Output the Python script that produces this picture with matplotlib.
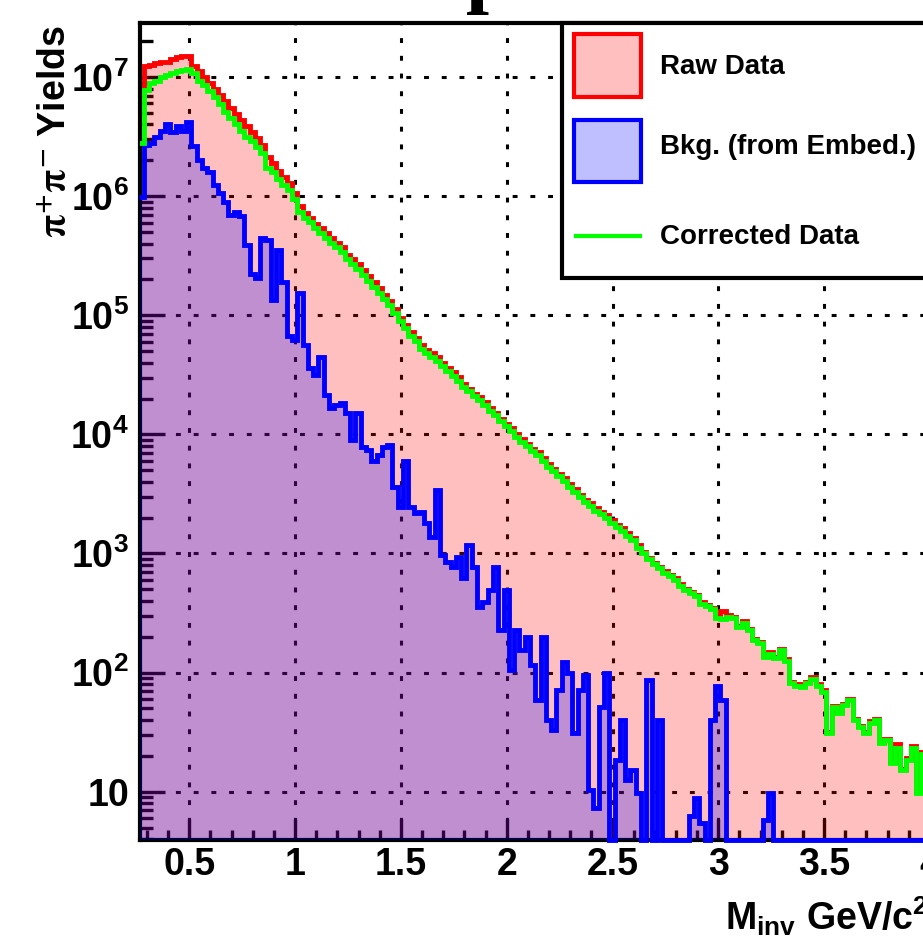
import numpy as np
import matplotlib
matplotlib.use("Agg")
import matplotlib.pyplot as plt
from matplotlib.patches import Rectangle
from matplotlib.lines import Line2D
from matplotlib.ticker import MultipleLocator, LogLocator, FuncFormatter, NullFormatter

plt.rcParams["font.family"] = ["Liberation Sans", "DejaVu Sans"]
plt.rcParams["font.weight"] = "bold"
plt.rcParams["mathtext.fontset"] = "custom"
plt.rcParams["mathtext.rm"] = "Liberation Sans:bold"
plt.rcParams["mathtext.bf"] = "Liberation Sans:bold"
plt.rcParams["mathtext.it"] = "Liberation Sans:bold:italic"

nan = float("nan")

# histogram binning, GeV/c^2
bin_lo = 0.26
bin_width = 0.025
n_bins = 150

# log10 of bin contents
raw_log = [
    6.89, 7.09, 7.10, 7.12, 7.13, 7.13, 7.15, 7.17, 7.18, 7.18,
    7.09, 7.05, 7.00, 6.95, 6.90, 6.85, 6.80, 6.74, 6.69, 6.64,
    6.59, 6.54, 6.49, 6.43, 6.33, 6.28, 6.21, 6.16, 6.11, 6.03,
    5.92, 5.86, 5.82, 5.77, 5.73, 5.69, 5.65, 5.61, 5.57, 5.51,
    5.47, 5.43, 5.38, 5.33, 5.28, 5.23, 5.17, 5.12, 5.05, 4.98,
    4.92, 4.86, 4.81, 4.75, 4.71, 4.68, 4.65, 4.60, 4.56, 4.52,
    4.48, 4.42, 4.38, 4.34, 4.31, 4.27, 4.22, 4.18, 4.13, 4.09,
    4.05, 4.00, 3.96, 3.92, 3.88, 3.85, 3.80, 3.75, 3.71, 3.67,
    3.63, 3.58, 3.54, 3.49, 3.45, 3.42, 3.38, 3.35, 3.32, 3.28,
    3.24, 3.21, 3.17, 3.13, 3.07, 3.01, 2.96, 2.92, 2.89, 2.85,
    2.82, 2.79, 2.74, 2.70, 2.68, 2.65, 2.59, 2.57, 2.54, 2.47,
    2.52, 2.48, 2.47, 2.39, 2.43, 2.37, 2.28, 2.26, 2.14, 2.17,
    2.13, 2.20, 2.11, 1.92, 1.90, 1.89, 1.92, 1.96, 1.90, 1.85,
    1.50, 1.72, 1.67, 1.74, 1.78, 1.61, 1.55, 1.50, 1.59, 1.61,
    1.42, 1.44, 1.25, 1.40, 1.19, 1.28, 1.38, 1.00, 1.33, 1.28,
]

corr_log = [
    6.45, 6.89, 6.95, 6.97, 7.00, 7.02, 7.03, 7.05, 7.06, 7.07,
    7.03, 6.97, 6.93, 6.88, 6.83, 6.77, 6.71, 6.66, 6.61, 6.55,
    6.50, 6.46, 6.41, 6.36, 6.24, 6.20, 6.14, 6.09, 6.05, 5.98,
    5.87, 5.82, 5.78, 5.73, 5.69, 5.65, 5.61, 5.57, 5.53, 5.47,
    5.43, 5.39, 5.34, 5.29, 5.24, 5.19, 5.14, 5.09, 5.02, 4.95,
    4.89, 4.83, 4.78, 4.72, 4.68, 4.65, 4.62, 4.57, 4.53, 4.49,
    4.45, 4.40, 4.36, 4.32, 4.29, 4.25, 4.20, 4.16, 4.11, 4.07,
    4.03, 3.98, 3.94, 3.90, 3.86, 3.83, 3.78, 3.73, 3.69, 3.65,
    3.61, 3.56, 3.52, 3.47, 3.43, 3.40, 3.36, 3.33, 3.30, 3.26,
    3.22, 3.19, 3.15, 3.11, 3.05, 3.00, 2.95, 2.91, 2.88, 2.84,
    2.81, 2.78, 2.73, 2.69, 2.67, 2.64, 2.58, 2.56, 2.53, 2.46,
    2.45, 2.47, 2.46, 2.38, 2.42, 2.36, 2.27, 2.25, 2.13, 2.16,
    2.12, 2.19, 2.10, 1.91, 1.89, 1.88, 1.91, 1.95, 1.89, 1.84,
    1.49, 1.71, 1.66, 1.73, 1.77, 1.60, 1.54, 1.49, 1.58, 1.60,
    1.41, 1.43, 1.24, 1.37, 1.18, 1.27, 1.37, 0.99, 1.32, 1.27,
]

bkg_log = [
    5.99, 6.43, 6.45, 6.50, 6.55, 6.61, 6.54, 6.59, 6.55, 6.62,
    6.42, 6.30, 6.24, 6.20, 6.09, 6.03, 5.95, 5.84, 5.87, 5.83,
    5.59, 5.35, 5.31, 5.65, 5.63, 5.13, 5.55, 5.28, 4.83, 4.79,
    5.19, 4.75, 4.56, 4.50, 4.65, 4.33, 4.22, 4.25, 4.26, 4.18,
    3.95, 4.18, 3.89, 3.87, 3.78, 3.83, 3.89, 3.91, 3.56, 3.39,
    3.78, 3.39, 3.34, 3.35, 3.26, 3.14, 3.53, 2.99, 2.93, 2.89,
    2.97, 2.79, 3.07, 2.89, 2.55, 2.59, 2.69, 2.89, 2.36, 2.69,
    2.02, 2.36, 2.19, 2.30, 2.06, 1.77, 2.30, 1.60, 1.52, 1.85,
    2.09, 2.00, 1.49, 1.85, 1.98, 1.01, 0.86, 1.71, 2.00, nan,
    1.27, 1.60, 1.10, 1.18, 0.99, nan, 1.94, nan, 1.60, nan,
    nan, nan, nan, nan, 0.80, 0.95, 0.74, nan, 1.60, 1.89,
    1.77, nan, nan, nan, nan, nan, nan, nan, 0.76, 0.99,
    nan, nan, nan, nan, nan, nan, nan, nan, nan, nan,
    nan, nan, nan, nan, nan, nan, nan, nan, nan, nan,
    nan, nan, nan, nan, nan, nan, nan, nan, nan, nan,
]

edges = bin_lo + bin_width * np.arange(n_bins + 1)
raw = 10 ** np.array(raw_log)
corr = 10 ** np.array(corr_log)
bkg = np.nan_to_num(10 ** np.array(bkg_log))

y_lo, y_hi = 3.93, 2.86e7
x_lo, x_hi = 0.267, 4.6

W, H = 923, 936
fig = plt.figure(figsize=(W / 100, H / 100), dpi=100)
# axes run past the right edge of the picture (cropped plot)
ax = fig.add_axes([140 / W, 1 - 840 / H, (x_hi - x_lo) * 211.6 / W, (840 - 22.7) / H])
ax.set_yscale("log")
ax.set_xlim(x_lo, x_hi)
ax.set_ylim(y_lo, y_hi)

lw_hist = 3.5

# raw data: light red fill + red outline
ax.stairs(raw, edges, baseline=y_lo, fill=True, color=(1, 0, 0, 0.25), lw=0, zorder=1)
ax.stairs(raw, edges, baseline=None, color="red", lw=lw_hist, zorder=2)

# background: light blue fill + blue outline (empty bins sit on the axis)
bkg_draw = np.maximum(bkg, y_lo)
ax.stairs(bkg_draw, edges, baseline=y_lo, fill=True, color=(0, 0, 1, 0.25), lw=0, zorder=3)
ax.stairs(bkg_draw, edges, baseline=None, color="blue", lw=lw_hist, zorder=4, clip_on=False)

# corrected data
ax.stairs(corr, edges, baseline=None, color=(0, 1, 0), lw=lw_hist, zorder=5)

ax.set_axisbelow(True)
ax.grid(True, which="major", color="black", lw=2.2, linestyle=(0, (1.6, 4.2)))

for s in ax.spines.values():
    s.set_linewidth(3)

ax.xaxis.set_major_locator(MultipleLocator(0.5))
ax.xaxis.set_minor_locator(MultipleLocator(0.1))
ax.xaxis.set_major_formatter(FuncFormatter(lambda v, p: f"{v:g}"))
ax.yaxis.set_major_locator(LogLocator(base=10))
ax.yaxis.set_minor_locator(LogLocator(base=10, subs=np.arange(2, 10)))
ax.yaxis.set_minor_formatter(NullFormatter())


def ylab(v, p):
    e = int(round(np.log10(v)))
    if e == 1:
        return "10"
    return r"$10^{%d}$" % e


ax.yaxis.set_major_formatter(FuncFormatter(ylab))

ax.tick_params(axis="x", which="major", direction="in", length=15, width=2.4, labelsize=27, pad=5)
ax.tick_params(axis="x", which="minor", direction="in", length=7.2, width=2.4)
ax.tick_params(axis="y", which="major", direction="in", length=18, width=2.4, labelsize=27, pad=8)
ax.tick_params(axis="y", which="minor", direction="in", length=9.4, width=2.4)


def fx(px):
    return px / W


def fy(py):
    return 1 - py / H


# axis titles
fig.text(fx(56), fy(25), r"$\mathrm{\pi^{+}\pi^{-}}$ Yields", rotation=90, ha="center", va="top",
         size=27, weight="bold", math_fontfamily="stix")
fig.text(fx(725), fy(930), r"$\mathrm{M_{inv}}$ GeV/c$^{2}$", ha="left", va="baseline", size=27)

# bottom of the (cropped) title
fig.text(fx(466), fy(-3), "p", family="Liberation Serif", weight="bold", size=60, va="baseline")

# legend box
fig.add_artist(Rectangle((fx(562), fy(278)), fx(1000) - fx(562), (278 - 22.7) / H,
                         transform=fig.transFigure, facecolor="white", edgecolor="black", lw=3, zorder=10))
fig.add_artist(Rectangle((fx(574), fy(97)), fx(641) - fx(574), (97 - 34) / H, transform=fig.transFigure,
                         facecolor=(1, 0.75, 0.75), edgecolor="red", lw=3, zorder=11))
fig.add_artist(Rectangle((fx(574), fy(182)), fx(641) - fx(574), (182 - 120) / H, transform=fig.transFigure,
                         facecolor=(0.75, 0.75, 1), edgecolor="blue", lw=3, zorder=11))
fig.add_artist(Line2D([fx(576), fx(640)], [fy(236), fy(236)], transform=fig.transFigure,
                      color=(0, 1, 0), lw=3, zorder=11))
for label, py in [("Raw Data", 67), ("Bkg. (from Embed.)", 147), ("Corrected Data", 237)]:
    fig.text(fx(660), fy(py), label, va="center", ha="left", size=20, zorder=12)

fig.savefig("out.png", dpi=100)
